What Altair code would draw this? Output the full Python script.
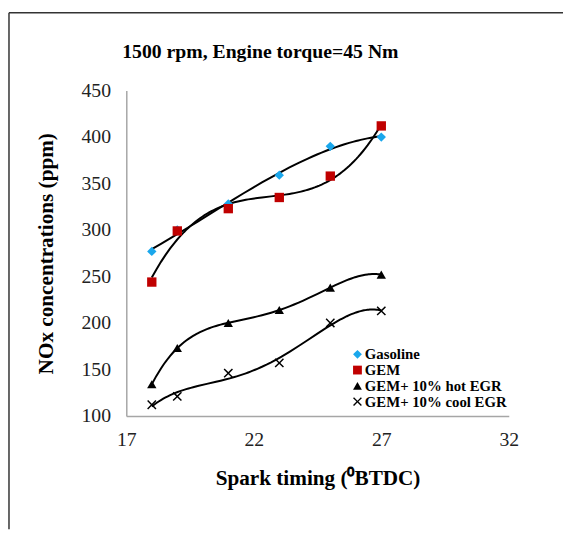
import altair as alt
import pandas as pd

spark_timing = [18, 19, 21, 23, 25, 27]
gasoline = [277, 300, 328, 359, 390, 400]
gem = [244, 299, 323, 335, 358, 412]
gem_hot_egr = [134, 173, 200, 214, 238, 252]
gem_cool_egr = [112, 121, 146, 157, 200, 213]

series_names = ["Gasoline", "GEM", "GEM+ 10% hot EGR", "GEM+ 10% cool EGR"]
series_values = [gasoline, gem, gem_hot_egr, gem_cool_egr]
series_colors = ["#1AA7EC", "#C00000", "#000000", "#000000"]
x_path = "M-1,-0.78L-0.78,-1L0,-0.22L0.78,-1L1,-0.78L0.22,0L1,0.78L0.78,1L0,0.22L-0.78,1L-1,0.78L-0.22,0Z"
series_shapes = ["diamond", "square", "triangle-up", x_path]
trend_order = [3, 3, 4, 4]

rows = []
for name, vals in zip(series_names, series_values):
    for xv, yv in zip(spark_timing, vals):
        rows.append({"series": name, "x": xv, "y": yv})
df = pd.DataFrame(rows)

FONT = "Liberation Serif"
W, H = 388, 330
PL, PT = 120, 80
TOTAL_W, TOTAL_H = 563, 525

xscale = alt.Scale(domain=[17, 32], nice=False, zero=False)
yscale = alt.Scale(domain=[100, 450], nice=False, zero=False)

xaxis = alt.Axis(values=[17, 22, 27, 32], title="Spark timing (\u2070BTDC)", grid=False, ticks=False,
                 labelFlush=False, domainColor="#a6a6a6", domainWidth=1.5, labelFont=FONT,
                 labelFontSize=20, labelColor="#222", labelPadding=14, titleFont=FONT,
                 titleFontSize=21.5, titleFontWeight="bold", titleColor="#000", titlePadding=19)
yaxis = alt.Axis(values=[100, 150, 200, 250, 300, 350, 400, 450], title="NOx concentrations (ppm)",
                 grid=False, ticks=False, labelFlush=False, domainColor="#a6a6a6", domainWidth=1.5,
                 labelFont=FONT, labelFontSize=20, labelColor="#222", labelPadding=16,
                 titleFont=FONT, titleFontSize=21.5, titleFontWeight="bold", titleColor="#000",
                 titlePadding=24)

line_layers = []
for name, order in zip(series_names, trend_order):
    line_layers.append(
        alt.Chart(df).transform_filter(alt.datum.series == name).transform_regression(
            "x", "y", method="poly", order=order
        ).mark_line(color="black", strokeWidth=2).encode(
            x=alt.X("x:Q", scale=xscale, axis=xaxis),
            y=alt.Y("y:Q", scale=yscale, axis=yaxis),
        )
    )

points = alt.Chart(df).mark_point(filled=True, opacity=1, size=90).encode(
    x=alt.X("x:Q", scale=xscale, axis=xaxis),
    y=alt.Y("y:Q", scale=yscale, axis=yaxis),
    color=alt.Color("series:N", scale=alt.Scale(domain=series_names, range=series_colors),
                    legend=alt.Legend(title=None, orient="none", legendX=227, legendY=260)),
    shape=alt.Shape("series:N", scale=alt.Scale(domain=series_names, range=series_shapes)),
)

frame_df = pd.DataFrame({"k": [0]})
top_line = alt.Chart(frame_df).mark_rule(color="#333", strokeWidth=1.5).encode(
    x=alt.value(-PL + 1), x2=alt.value(TOTAL_W - PL), y=alt.value(-PT + 1))
left_line = alt.Chart(frame_df).mark_rule(color="#333", strokeWidth=1.5).encode(
    x=alt.value(-PL + 1), y=alt.value(-PT + 1), y2=alt.value(TOTAL_H - PT))

chart = alt.layer(top_line, left_line, *line_layers, points).properties(
    width=W, height=H,
    title=alt.TitleParams("1500 rpm, Engine torque=45 Nm", font=FONT, fontSize=20, fontWeight="bold",
                          color="#000", anchor="middle", dx=-58, offset=-51),
    padding={"left": PL, "top": PT, "right": TOTAL_W - PL - W, "bottom": TOTAL_H - PT - H},
    autosize=alt.AutoSizeParams(type="none"),
    background="white",
).configure_view(stroke=None).configure_legend(
    labelFont=FONT, labelFontSize=15, labelFontWeight="bold", labelColor="#000",
    symbolSize=80, padding=0, rowPadding=0, labelOffset=0, labelLimit=300,
)

chart.save("out.html", embed_options={"renderer": "svg", "actions": False})
